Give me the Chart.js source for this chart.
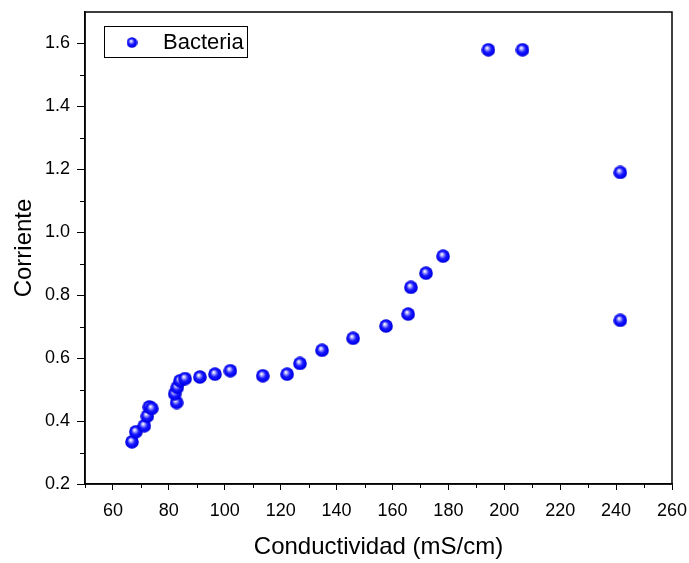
<!DOCTYPE html>
<html>
<head>
<meta charset="utf-8">
<script src="https://cdn.jsdelivr.net/npm/chart.js@4"></script>
<style>
  html, body { margin: 0; padding: 0; background: #fff; }
  #wrap { width: 689px; height: 563px; }
</style>
</head>
<body>
<div id="wrap"><canvas id="scatterChart" width="689" height="563"></canvas></div>
<script>
const seriesLabel = 'Bacteria';
const conductivity = [66.8, 68.2, 71.2, 72.3, 73.0, 73.9, 82.8, 82.1, 83.0, 84.0, 85.8, 91.1, 96.5, 102.0,
    113.6, 122.3, 126.9, 134.8, 145.9, 157.7, 165.6, 166.6, 172.0, 178.1, 194.3, 206.5, 241.5, 241.5];
const current = [0.334, 0.366, 0.385, 0.416, 0.445, 0.440, 0.459, 0.487, 0.507, 0.528, 0.535, 0.540, 0.549, 0.560,
    0.544, 0.549, 0.583, 0.625, 0.663, 0.702, 0.740, 0.825, 0.870, 0.924, 1.580, 1.580, 1.190, 0.720];
const xMinorTicks = [50, 70, 90, 110, 130, 150, 170, 190, 210, 230, 250];
const yMinorTicks = [0.3, 0.5, 0.7, 0.9, 1.1, 1.3, 1.5];

// shaded blue ball used as marker
function makeBall(d) {
    const c = document.createElement('canvas');
    c.width = d; c.height = d;
    const g = c.getContext('2d');
    const r = d / 2;
    const grad = g.createRadialGradient(r * 0.8, r * 0.72, r * 0.05, r, r, r);
    grad.addColorStop(0, '#ffffff');
    grad.addColorStop(0.22, '#9a9aff');
    grad.addColorStop(0.5, '#1a1aff');
    grad.addColorStop(0.85, '#0000f0');
    grad.addColorStop(1, '#0000c0');
    g.fillStyle = grad;
    g.beginPath();
    g.arc(r, r, r - 0.2, 0, Math.PI * 2);
    g.fill();
    return c;
}
const ball = makeBall(14);
const legendBall = makeBall(11);

function noOverhang(scale) {
    scale.paddingLeft = 0;
    scale.paddingRight = 0;
    scale.paddingTop = 0;
    scale.paddingBottom = 0;
}

const frameAndExtras = {
    id: 'frameAndExtras',
    afterDraw(chart) {
        const ctx = chart.ctx;
        const a = chart.chartArea;
        const xs = chart.scales.x, ys = chart.scales.y;
        ctx.save();
        ctx.strokeStyle = '#000';
        ctx.lineWidth = 1.5;
        ctx.strokeRect(a.left, a.top, a.right - a.left, a.bottom - a.top);
        // minor ticks
        ctx.lineWidth = 1;
        ctx.beginPath();
        xMinorTicks.forEach(v => {
            const px = Math.round(xs.getPixelForValue(v)) + 0.5;
            ctx.moveTo(px, a.bottom); ctx.lineTo(px, a.bottom + 4);
        });
        yMinorTicks.forEach(v => {
            const py = Math.round(ys.getPixelForValue(v)) + 0.5;
            ctx.moveTo(a.left, py); ctx.lineTo(a.left - 5, py);
        });
        ctx.stroke();
        // legend box inside plot
        ctx.lineWidth = 1;
        ctx.strokeRect(104.5, 26.5, 143, 31);
        ctx.drawImage(legendBall, 132 - 5.5, 42.5 - 5.5);
        ctx.fillStyle = '#000';
        ctx.font = '22px "Liberation Sans", Arial, sans-serif';
        ctx.textBaseline = 'middle';
        ctx.textAlign = 'left';
        ctx.fillText(chart.data.datasets[0].label, 163, 42.5);
        ctx.restore();
    }
};

const tickFont = { family: '"Liberation Sans", Arial, sans-serif', size: 18 };
const titleFont = { family: '"Liberation Sans", Arial, sans-serif', size: 24 };

new Chart(document.getElementById('scatterChart').getContext('2d'), {
    type: 'scatter',
    data: {
        datasets: [{
            label: seriesLabel,
            data: conductivity.map((x, i) => ({ x: x, y: current[i] })),
            pointStyle: ball,
            pointRadius: 7,
            pointHoverRadius: 7
        }]
    },
    options: {
        responsive: false,
        animation: false,
        plugins: {
            legend: { display: false },
            tooltip: { enabled: false }
        },
        layout: {
            padding: { left: 0, top: 12, right: 17, bottom: 0 }
        },
        scales: {
            x: {
                type: 'linear',
                min: 50,
                max: 260,
                afterFit(scale) { scale.height = 79; noOverhang(scale); },
                border: { display: true, color: '#000', width: 1.5 },
                grid: { drawOnChartArea: false, drawTicks: true, tickLength: 6, color: '#000', tickWidth: 1 },
                ticks: {
                    stepSize: 20,
                    includeBounds: false,
                    color: '#000',
                    font: tickFont,
                    padding: 10,
                    maxRotation: 0
                },
                title: {
                    display: true,
                    text: 'Conductividad (mS/cm)',
                    color: '#000',
                    font: titleFont,
                    padding: { top: 0, bottom: 1 }
                }
            },
            y: {
                type: 'linear',
                min: 0.2,
                max: 1.7,
                afterFit(scale) { scale.width = 85; noOverhang(scale); },
                border: { display: true, color: '#000', width: 1.5 },
                grid: { drawOnChartArea: false, drawTicks: true, tickLength: 8, color: '#000', tickWidth: 1 },
                ticks: {
                    stepSize: 0.2,
                    includeBounds: false,
                    color: '#000',
                    font: tickFont,
                    padding: 7,
                    callback: v => v.toFixed(1)
                },
                title: {
                    display: true,
                    text: 'Corriente',
                    color: '#000',
                    font: titleFont,
                    padding: { top: 10, bottom: 0 }
                }
            }
        }
    },
    plugins: [frameAndExtras]
});
</script>
</body>
</html>
